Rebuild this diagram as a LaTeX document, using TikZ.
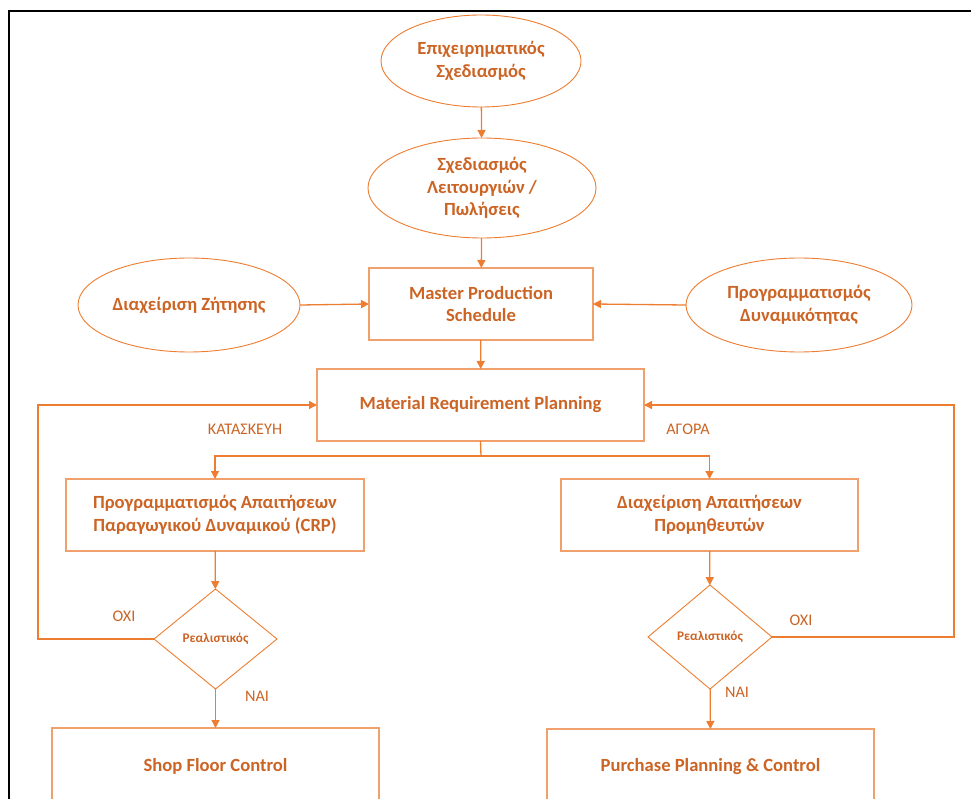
\documentclass[tikz,border=0pt]{standalone}
\usepackage{fontspec}
\setmainfont{Carlito}
\usetikzlibrary{shapes.geometric,arrows.meta}
\definecolor{ln}{HTML}{ED7D31}
\definecolor{tx}{HTML}{CB6424}
\definecolor{bx}{HTML}{EFA06C}
\begin{document}
\begin{tikzpicture}[x=1pt,y=-1pt,
  every node/.style={inner sep=0pt,outer sep=0pt,text=tx,font=\bfseries\fontsize{18.6}{22.5}\selectfont,align=center},
  oval/.style={ellipse,draw=ln,line width=0.9pt},
  boxnode/.style={rectangle,draw=bx,line width=1.2pt},
  dia/.style={diamond,draw=ln,line width=0.9pt,font=\bfseries\fontsize{13.2}{15}\selectfont},
  lbl/.style={font=\fontsize{16.2}{18}\selectfont,text=tx},
  conn/.style={draw=ln,line width=1.3pt,-{Triangle[length=8pt,width=8pt]}},
  frame/.style={draw=black,line width=2.4pt}]
\useasboundingbox (0,0) rectangle (971,799);
\draw[frame] (9,805) -- (9,11) -- (975,11);

\node[oval,minimum width=200pt,minimum height=92pt] (e1) at (481,61) {Επιχειρηματικός\\Σχεδιασμός};
\node[oval,minimum width=228pt,minimum height=100pt] (e2) at (482,188) {Σχεδιασμός\\Λειτουργιών /\\Πωλήσεις};
\node[boxnode,minimum width=224pt,minimum height=72pt] (mps) at (481,304) {Master Production\\Schedule};
\node[oval,minimum width=222pt,minimum height=94pt] (dz) at (189,305) {Διαχείριση Ζήτησης};
\node[oval,minimum width=226pt,minimum height=94pt] (pd) at (799,305) {Προγραμματισμός\\Δυναμικότητας};
\node[boxnode,minimum width=327pt,minimum height=72pt] (mrp) at (480.5,405) {Material Requirement Planning};
\node[boxnode,minimum width=298pt,minimum height=72pt] (crp) at (215,515) {Προγραμματισμός Απαιτήσεων\\Παραγωγικού Δυναμικού (CRP)};
\node[boxnode,minimum width=297pt,minimum height=72pt] (dap) at (709.5,515) {Διαχείριση Απαιτήσεων\\Προμηθευτών};
\node[dia,minimum width=123pt,minimum height=100pt] (d1) at (215.5,639) {Ρεαλιστικός};
\node[dia,minimum width=124pt,minimum height=104pt] (d2) at (710,637) {Ρεαλιστικός};
\node[boxnode,minimum width=327pt,minimum height=76pt] (sfc) at (215.5,766) {Shop Floor Control};
\node[boxnode,minimum width=327pt,minimum height=76pt] (ppc) at (710.5,767) {Purchase Planning \& Control};

\coordinate (split) at (481,456);
\coordinate (lc) at (38,639);
\coordinate (rc) at (954,637);

\draw[conn] (e1) -- (e2);
\draw[conn] (e2) -- (mps);
\draw[conn] (dz.east) -- (mps.west);
\draw[conn] (pd.west) -- (mps.east);
\draw[conn] (mps) -- (mrp);
\draw[draw=ln,line width=1.3pt] (mrp.south) -- (split);
\draw[conn] (split) -| (crp.north);
\draw[conn] (split) -| (dap.north);
\draw[conn] (crp) -- (d1);
\draw[conn] (dap) -- (d2);
\draw[conn] (d1) -- (sfc);
\draw[conn] (d2) -- (ppc);
\draw[conn] (d1.west) -- (lc) |- (mrp.west);
\draw[conn] (d2.east) -- (rc) |- (mrp.east);

\node[lbl] (l1) at (245,429) {ΚΑΤΑΣΚΕΥΗ};
\node[lbl] (l2) at (688,429) {ΑΓΟΡΑ};
\node[lbl] (l3) at (124,616) {ΟΧΙ};
\node[lbl] (l4) at (257,696) {ΝΑΙ};
\node[lbl] (l5) at (801,620) {ΟΧΙ};
\node[lbl] (l6) at (737,692) {ΝΑΙ};
\end{tikzpicture}
\end{document}
